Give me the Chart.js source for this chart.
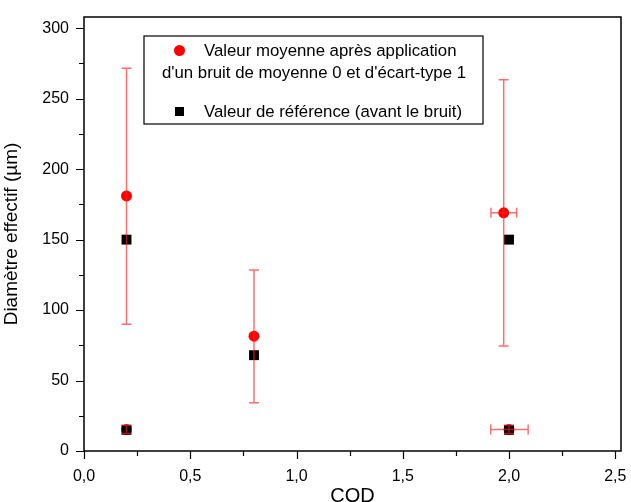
<!DOCTYPE html>
<html>
<head>
<meta charset="utf-8">
<script src="https://cdn.jsdelivr.net/npm/chart.js@4.4.0/dist/chart.umd.min.js"></script>
<style>
html, body { margin: 0; padding: 0; background: #fff; }
</style>
</head>
<body>
<canvas id="chart" width="631" height="502"></canvas>
<script>
// Tick values
const xTicks = [0, 0.5, 1, 1.5, 2, 2.5];
const yTicks = [0, 50, 100, 150, 200, 250, 300];

// Mean values after noise (red) with error ranges
const redX = [0.2, 0.2, 0.8, 1.975, 2.0];
const redY = [181, 15.3, 81.5, 169, 15.3];
const redYLow = [90, 12.5, 34.3, 74.5, 12.5];
const redYHigh = [271.6, 18.2, 128.4, 263.5, 18.2];
const redXLow = [null, null, null, 1.915, 1.914];
const redXHigh = [null, null, null, 2.036, 2.09];

// Reference values (black)
const blackX = [0.2, 0.2, 0.8, 2.0, 2.0];
const blackY = [150, 15, 68, 150, 15];

const FONT = '"Liberation Sans", Arial, sans-serif';

// Frame + outward major/minor ticks
const framePlugin = {
    id: 'frame',
    beforeDatasetsDraw(chart) {
        const { ctx, chartArea: a, scales: { x, y } } = chart;
        ctx.save();
        ctx.strokeStyle = '#000';
        ctx.lineWidth = 1.5;
        ctx.strokeRect(a.left, a.top, a.right - a.left, a.bottom - a.top);
        ctx.lineWidth = 1.2;
        ctx.beginPath();
        for (let v = 0; v <= 2.5001; v += 0.25) {
            const px = Math.round(x.getPixelForValue(v)) + 0.5;
            const len = Math.abs(v * 2 - Math.round(v * 2)) < 1e-6 ? 8 : 5;
            ctx.moveTo(px, a.bottom);
            ctx.lineTo(px, a.bottom + len);
        }
        for (let v = 0; v <= 300; v += 25) {
            const py = Math.round(y.getPixelForValue(v)) + 0.5;
            const len = v % 50 === 0 ? 8 : 5;
            ctx.moveTo(a.left, py);
            ctx.lineTo(a.left - len, py);
        }
        ctx.stroke();
        ctx.restore();
    }
};

// Error bars for the red series
const errorBarPlugin = {
    id: 'errorBars',
    afterDatasetsDraw(chart) {
        const { ctx, scales: { x, y } } = chart;
        const cap = 5;
        ctx.save();
        ctx.strokeStyle = 'rgba(255, 30, 30, 0.65)';
        ctx.lineWidth = 1.5;
        redX.forEach((vx, i) => {
            const px = x.getPixelForValue(vx);
            const py = y.getPixelForValue(redY[i]);
            const top = y.getPixelForValue(redYHigh[i]);
            const bot = y.getPixelForValue(redYLow[i]);
            ctx.beginPath();
            ctx.moveTo(px, top); ctx.lineTo(px, bot);
            ctx.moveTo(px - cap, top); ctx.lineTo(px + cap, top);
            ctx.moveTo(px - cap, bot); ctx.lineTo(px + cap, bot);
            if (redXLow[i] !== null) {
                const l = x.getPixelForValue(redXLow[i]);
                const r = x.getPixelForValue(redXHigh[i]);
                ctx.moveTo(l, py); ctx.lineTo(r, py);
                ctx.moveTo(l, py - cap); ctx.lineTo(l, py + cap);
                ctx.moveTo(r, py - cap); ctx.lineTo(r, py + cap);
            }
            ctx.stroke();
        });
        ctx.restore();
    }
};

// Boxed legend inside the plot
const legendPlugin = {
    id: 'boxLegend',
    afterDraw(chart) {
        const { ctx } = chart;
        ctx.save();
        ctx.strokeStyle = '#000';
        ctx.lineWidth = 1.2;
        ctx.strokeRect(144, 36, 339, 88);
        ctx.fillStyle = '#ff0000';
        ctx.beginPath();
        ctx.arc(179.5, 50.5, 5.5, 0, Math.PI * 2);
        ctx.fill();
        ctx.fillStyle = '#000';
        ctx.fillRect(175, 107, 9, 9);
        ctx.font = '16.8px ' + FONT;
        ctx.textBaseline = 'middle';
        ctx.textAlign = 'left';
        ctx.fillText('Valeur moyenne après application', 204, 51);
        ctx.textAlign = 'center';
        ctx.fillText("d'un bruit de moyenne 0 et d'écart-type 1", 314, 73);
        ctx.textAlign = 'left';
        ctx.fillText('Valeur de référence (avant le bruit)', 204, 112);
        ctx.restore();
    }
};

const ctx = document.getElementById('chart').getContext('2d');
new Chart(ctx, {
    type: 'scatter',
    data: {
        datasets: [
            {
                label: 'Valeur de référence (avant le bruit)',
                data: blackX.map((v, i) => ({ x: v, y: blackY[i] })),
                pointStyle: 'rect',
                pointRadius: 7,
                backgroundColor: '#000',
                borderColor: '#000',
                borderWidth: 0
            },
            {
                label: "Valeur moyenne après application d'un bruit de moyenne 0 et d'écart-type 1",
                data: redX.map((v, i) => ({ x: v, y: redY[i] })),
                pointStyle: 'circle',
                pointRadius: 5.5,
                backgroundColor: '#ff0000',
                borderColor: '#ff0000',
                borderWidth: 0
            }
        ]
    },
    options: {
        responsive: false,
        animation: false,
        devicePixelRatio: 1,
        layout: { padding: { left: 0, right: 10, top: 17, bottom: 0 } },
        plugins: {
            legend: { display: false },
            tooltip: { enabled: false }
        },
        scales: {
            x: {
                type: 'linear',
                min: 0,
                max: 2.527,
                afterBuildTicks: scale => { scale.ticks = xTicks.map(v => ({ value: v })); },
                afterFit: scale => { scale.height = 51; },
                // ticks drawn by framePlugin; tickLength only offsets the labels
                grid: { display: false, drawTicks: true, tickLength: 14 },
                border: { display: false },
                ticks: {
                    padding: 2,
                    color: '#000',
                    font: { family: FONT, size: 16 },
                    maxRotation: 0,
                    callback: v => v.toFixed(1).replace('.', ',')
                },
                title: {
                    display: true,
                    text: 'COD',
                    color: '#000',
                    font: { family: FONT, size: 20 },
                    padding: { top: 0, bottom: -6 }
                }
            },
            y: {
                min: 0,
                max: 308,
                afterBuildTicks: scale => { scale.ticks = yTicks.map(v => ({ value: v })); },
                afterFit: scale => { scale.width = 84; },
                grid: { display: false, drawTicks: true, tickLength: 13 },
                border: { display: false },
                ticks: {
                    padding: 2,
                    color: '#000',
                    font: { family: FONT, size: 16 }
                },
                title: {
                    display: true,
                    text: 'Diamètre effectif (µm)',
                    color: '#000',
                    font: { family: FONT, size: 19 },
                    padding: { top: 0, bottom: 9 }
                }
            }
        }
    },
    plugins: [framePlugin, errorBarPlugin, legendPlugin]
});
</script>
</body>
</html>
